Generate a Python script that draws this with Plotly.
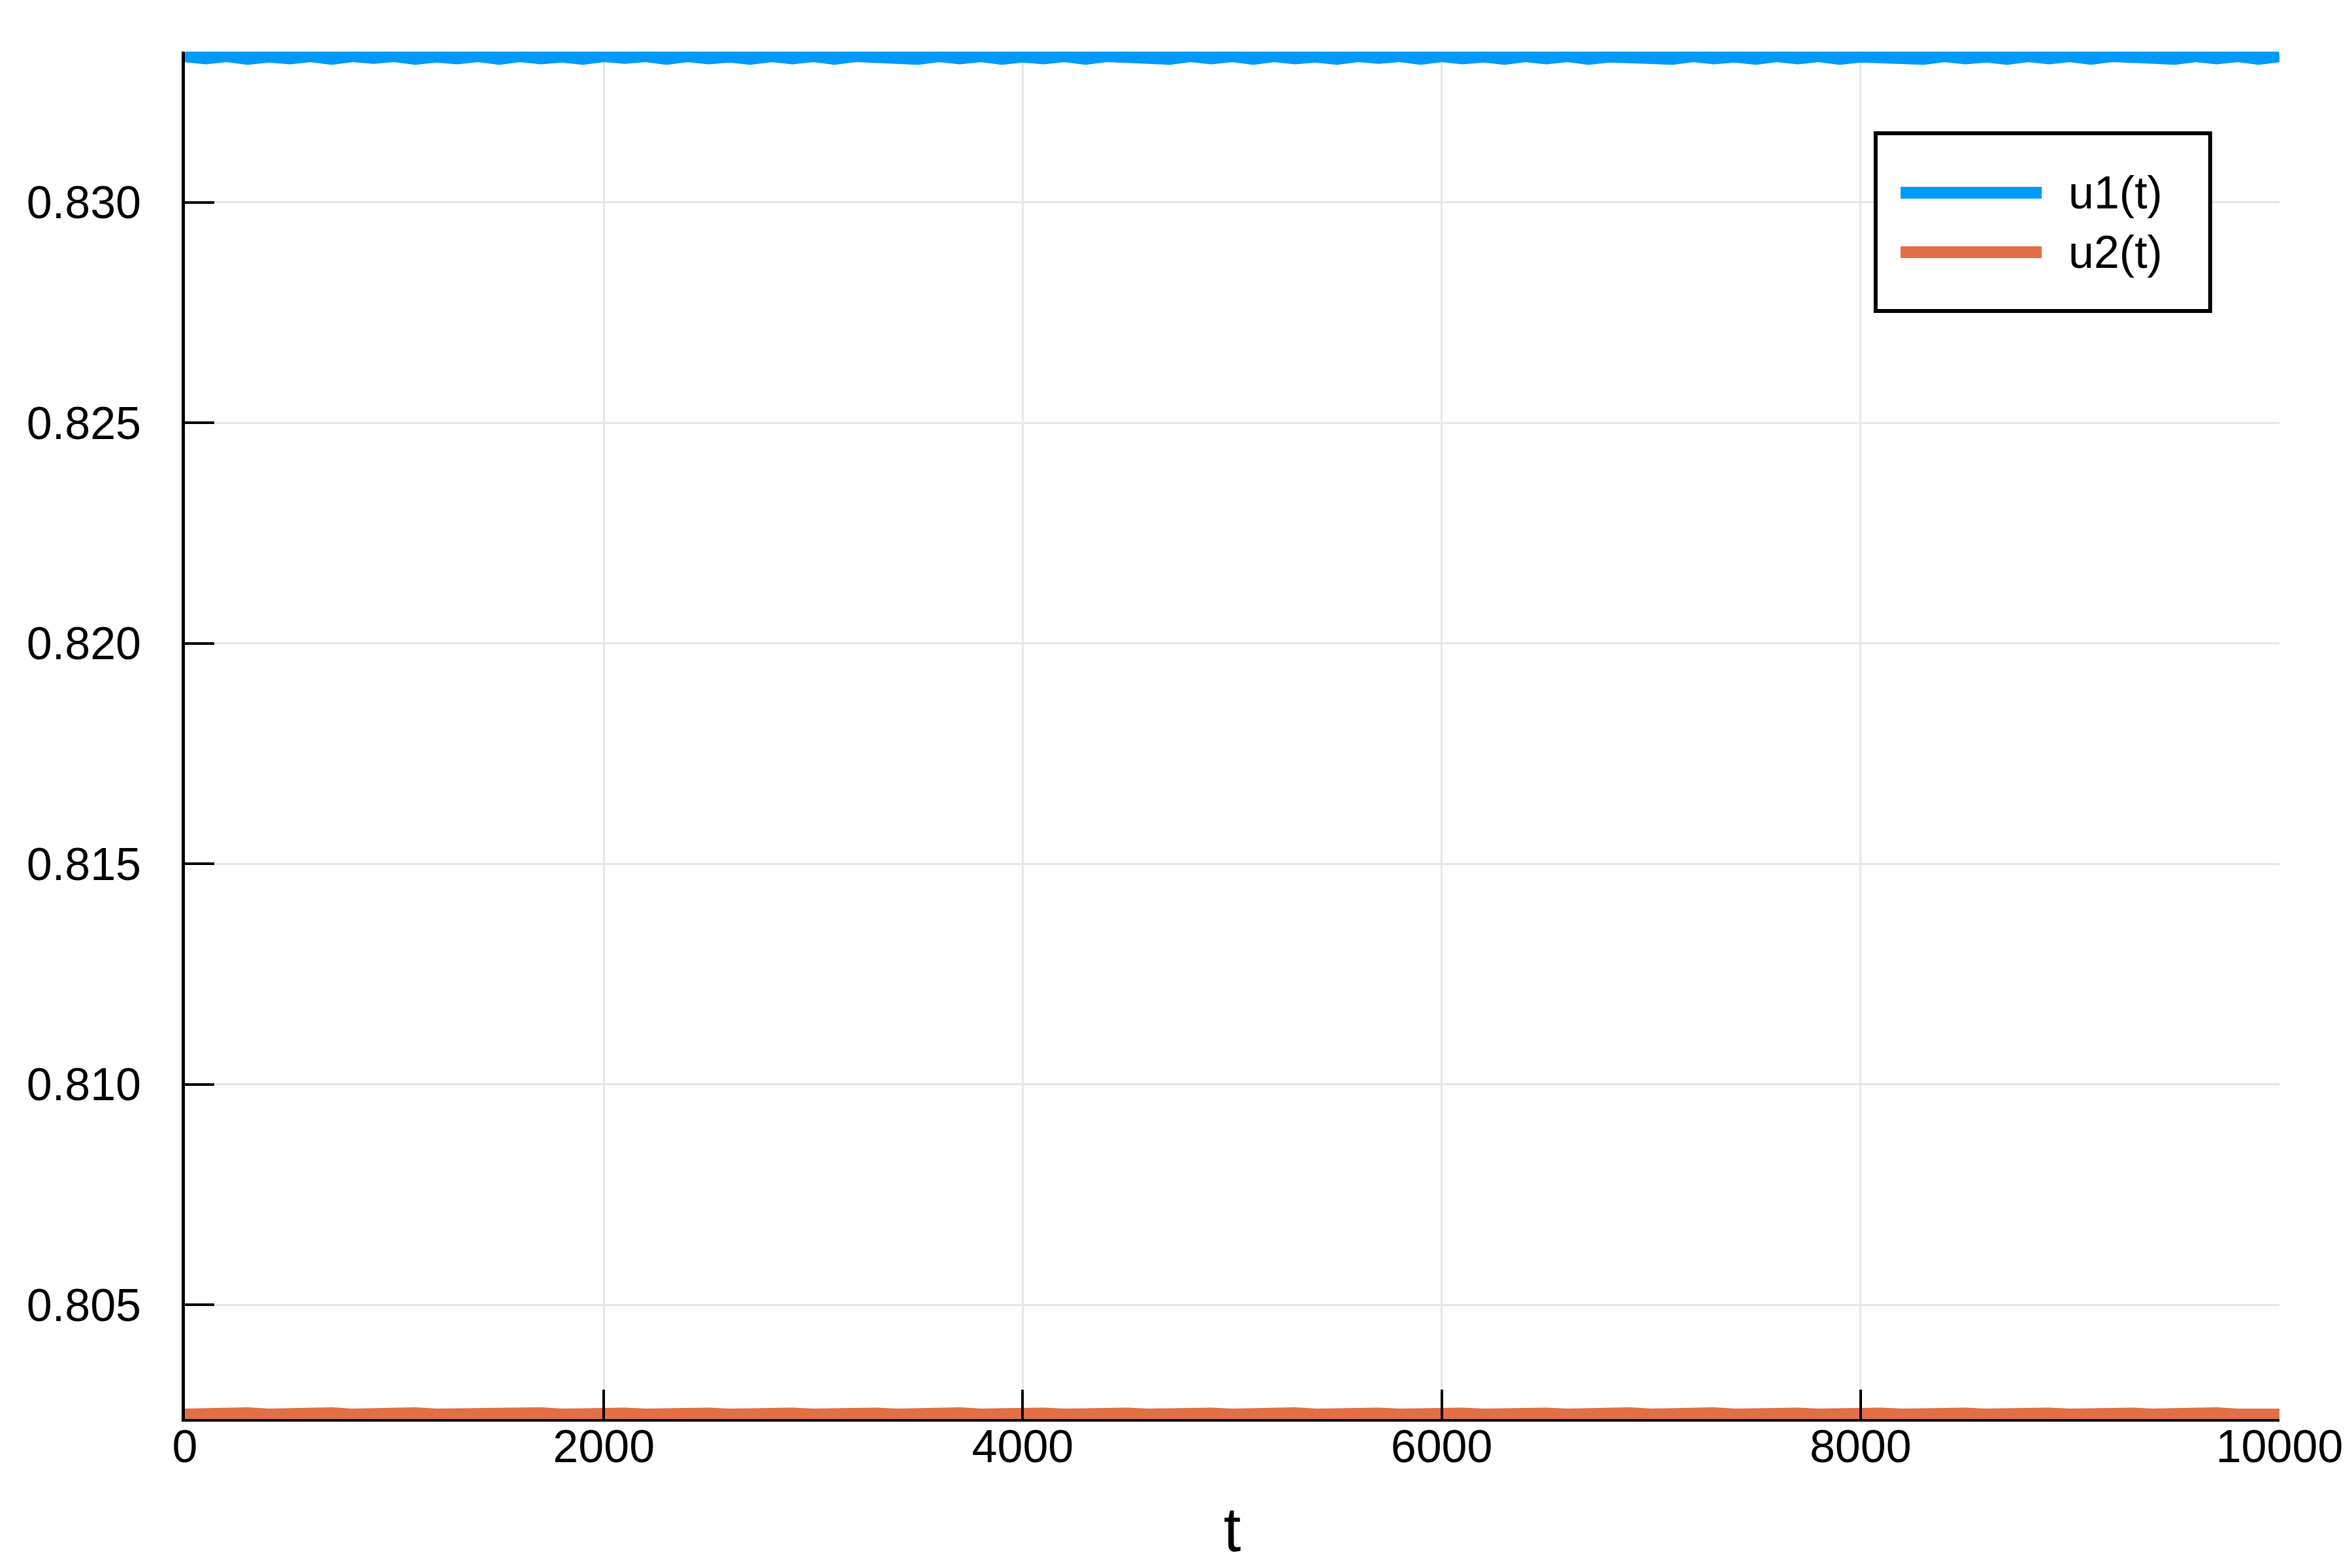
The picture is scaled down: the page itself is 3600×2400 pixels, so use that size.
import plotly.graph_objects as go

# data (t every 100)
t = [0, 100, 200, 300, 400, 500, 600, 700, 800, 900,
     1000, 1100, 1200, 1300, 1400, 1500, 1600, 1700, 1800, 1900,
     2000, 2100, 2200, 2300, 2400, 2500, 2600, 2700, 2800, 2900,
     3000, 3100, 3200, 3300, 3400, 3500, 3600, 3700, 3800, 3900,
     4000, 4100, 4200, 4300, 4400, 4500, 4600, 4700, 4800, 4900,
     5000, 5100, 5200, 5300, 5400, 5500, 5600, 5700, 5800, 5900,
     6000, 6100, 6200, 6300, 6400, 6500, 6600, 6700, 6800, 6900,
     7000, 7100, 7200, 7300, 7400, 7500, 7600, 7700, 7800, 7900,
     8000, 8100, 8200, 8300, 8400, 8500, 8600, 8700, 8800, 8900,
     9000, 9100, 9200, 9300, 9400, 9500, 9600, 9700, 9800, 9900,
     10000]

u1 = [0.83333, 0.83328, 0.83333, 0.83327, 0.83332, 0.83328, 0.83333, 0.83327, 0.83333, 0.83329,
      0.83333, 0.83327, 0.83332, 0.83328, 0.83333, 0.83327, 0.83333, 0.83328, 0.83332, 0.83327,
      0.83333, 0.83329, 0.83333, 0.83327, 0.83333, 0.83328, 0.83332, 0.83327, 0.83333, 0.83328,
      0.83333, 0.83327, 0.83333, 0.83329, 0.83332, 0.83327, 0.83333, 0.83328, 0.83333, 0.83327,
      0.83332, 0.83328, 0.83333, 0.83327, 0.83333, 0.83329, 0.83332, 0.83327, 0.83333, 0.83328,
      0.83333, 0.83327, 0.83333, 0.83328, 0.83332, 0.83327, 0.83333, 0.83329, 0.83333, 0.83327,
      0.83333, 0.83328, 0.83332, 0.83327, 0.83333, 0.83328, 0.83333, 0.83327, 0.83332, 0.83329,
      0.83333, 0.83327, 0.83333, 0.83328, 0.83332, 0.83327, 0.83333, 0.83328, 0.83333, 0.83327,
      0.83332, 0.83329, 0.83333, 0.83327, 0.83333, 0.83328, 0.83332, 0.83327, 0.83333, 0.83328,
      0.83333, 0.83327, 0.83333, 0.83329, 0.83332, 0.83327, 0.83333, 0.83328, 0.83333, 0.83327,
      0.83333]

u2 = [0.80250, 0.80252, 0.80250, 0.80253, 0.80250, 0.80252, 0.80251, 0.80253, 0.80250, 0.80252,
      0.80250, 0.80253, 0.80250, 0.80252, 0.80250, 0.80252, 0.80251, 0.80253, 0.80250, 0.80252,
      0.80250, 0.80252, 0.80250, 0.80253, 0.80250, 0.80252, 0.80250, 0.80253, 0.80251, 0.80252,
      0.80250, 0.80253, 0.80250, 0.80252, 0.80250, 0.80252, 0.80250, 0.80253, 0.80250, 0.80252,
      0.80251, 0.80252, 0.80250, 0.80253, 0.80250, 0.80252, 0.80250, 0.80253, 0.80250, 0.80252,
      0.80250, 0.80252, 0.80251, 0.80253, 0.80250, 0.80252, 0.80250, 0.80252, 0.80250, 0.80253,
      0.80250, 0.80252, 0.80250, 0.80253, 0.80251, 0.80252, 0.80250, 0.80252, 0.80250, 0.80253,
      0.80250, 0.80252, 0.80250, 0.80253, 0.80250, 0.80252, 0.80251, 0.80252, 0.80250, 0.80253,
      0.80250, 0.80252, 0.80250, 0.80253, 0.80250, 0.80252, 0.80250, 0.80253, 0.80251, 0.80252,
      0.80250, 0.80253, 0.80250, 0.80252, 0.80250, 0.80252, 0.80250, 0.80253, 0.80250, 0.80252,
      0.80250]

names = ["u1(t)", "u2(t)"]
colors = ["#009AFA", "#E26F46"]

x_ticks = [0, 2000, 4000, 6000, 8000, 10000]
y_ticks = [0.805, 0.810, 0.815, 0.820, 0.825, 0.830]

FONT = "Liberation Sans, Arial, sans-serif"

fig = go.Figure()
for ys, name, c in zip([u1, u2], names, colors):
    fig.add_trace(go.Scatter(x=t, y=ys, name=name, mode="lines",
                             line=dict(color=c, width=20), showlegend=False))

axis_common = dict(
    showline=True, linecolor="black",
    ticks="inside", ticklen=45, tickwidth=4, tickcolor="black",
    showgrid=True, gridcolor="#e6e6e6", gridwidth=3,
    zeroline=False,
    tickfont=dict(family=FONT, size=70, color="black"),
)

fig.update_xaxes(range=[0, 10000], tickvals=x_ticks, tickformat="d",
                 linewidth=4, ticklabelstandoff=-22,
                 title=dict(text="t", font=dict(family=FONT, size=96, color="black"), standoff=56),
                 **axis_common)
fig.update_yaxes(range=[0.80241, 0.83342], tickvals=y_ticks, tickformat=".3f",
                 linewidth=5, ticklabelstandoff=48,
                 **axis_common)

# legend box drawn by hand so the line samples are as long as in the original
lx0, lx1, ly0, ly1 = 0.8072, 0.9669, 0.8103, 0.9403
fig.add_shape(type="rect", xref="paper", yref="paper", x0=lx0, x1=lx1, y0=ly0, y1=ly1,
              line=dict(color="black", width=6), fillcolor="white", layer="above")
for name, c, yy in zip(names, colors, [0.8968, 0.8533]):
    fig.add_shape(type="line", xref="paper", yref="paper", x0=0.8191, x1=0.8865, y0=yy, y1=yy,
                  line=dict(color=c, width=18), layer="above")
    fig.add_annotation(xref="paper", yref="paper", x=0.8986, y=yy, text=name, showarrow=False,
                       xanchor="left", yanchor="middle",
                       font=dict(family=FONT, size=70, color="black"))

fig.update_layout(
    width=3600, height=2400,
    margin=dict(l=275, r=119, t=71, b=236),
    plot_bgcolor="white", paper_bgcolor="white",
    font=dict(family=FONT, size=70, color="black"),
)

fig.write_html("out.html")
